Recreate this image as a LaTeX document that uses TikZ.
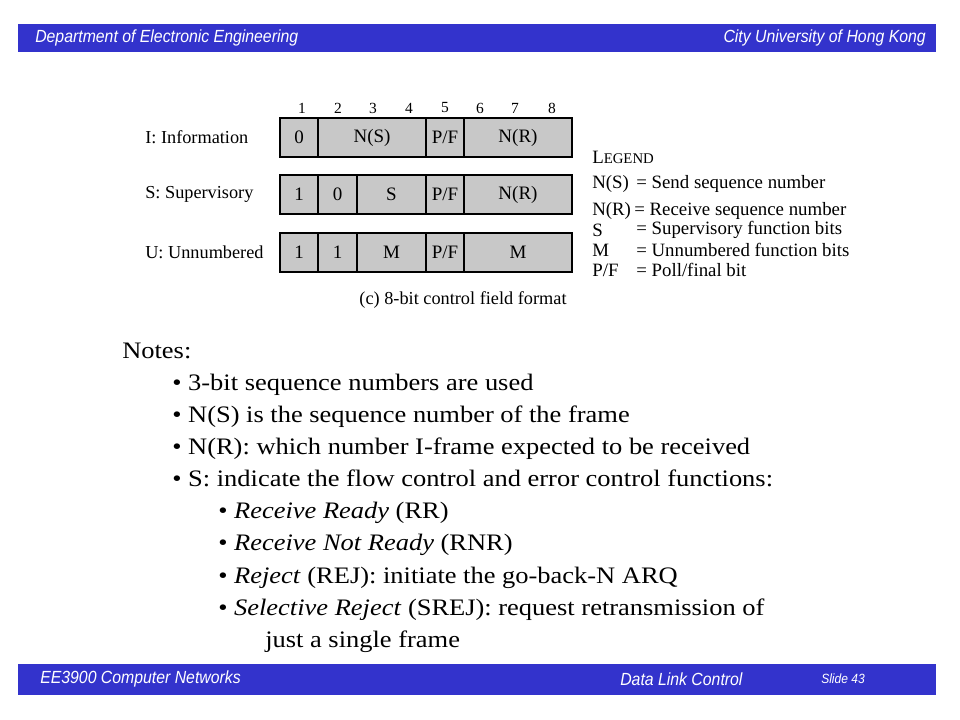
\documentclass[tikz,border=0pt]{standalone}
\usepackage{fontspec}
\setmainfont{Liberation Serif}
\setsansfont{Liberation Sans}
\newfontfamily\notesfont{Liberation Serif}[FakeStretch=1.12]
\newfontfamily\barfont{Liberation Sans}[FakeStretch=0.9]
\usetikzlibrary{math}
\definecolor{slideblue}{RGB}{51,51,204}
\definecolor{cellgray}{RGB}{200,200,200}

\begin{document}
\begin{tikzpicture}[x=0.025cm, y=-0.025cm,
  bartxt/.style={text=white, inner sep=0pt, font=\barfont\itshape\fontsize{12.5}{14}\selectfont},
  cell/.style={draw, line width=1.2pt, fill=cellgray},
  celltxt/.style={inner sep=0pt, font=\fontsize{13.5}{15}\selectfont},
  booktxt/.style={inner sep=0pt, font=\fontsize{13}{15}\selectfont},
  legtxt/.style={anchor=west, inner sep=0pt, font=\fontsize{13.4}{15}\selectfont},
  bitnum/.style={inner sep=0pt, font=\fontsize{11}{13}\selectfont},
  note/.style={anchor=base west, inner sep=0pt, font=\notesfont\fontsize{16.8}{19}\selectfont}]
\tikzmath{
\h=39;
\ya=118;
\yb=175;
\yc=233;
\dy=32;
}
\useasboundingbox (0,0) rectangle (960,720);

%header and footer
\fill[slideblue] (18,24) rectangle (936,52);
\node[bartxt, anchor=west] (dept) at (35,38) {Department of Electronic Engineering};
\node[bartxt, anchor=east] (uni) at (926,38) {City University of Hong Kong};
\fill[slideblue] (18,664) rectangle (936,695);
\node[bartxt, anchor=west] (course) at (40,679) {EE3900 Computer Networks};
\node[bartxt, anchor=west] (topic) at (620,679) {Data Link Control};
\node[bartxt, anchor=west, font=\barfont\itshape\fontsize{9.5}{11}\selectfont] (slide) at (821,679) {Slide 43};

%bit numbers
\node[bitnum] (b1) at (302,108) {1};
\node[bitnum] (b2) at (338,108) {2};
\node[bitnum] (b3) at (373,108) {3};
\node[bitnum] (b4) at (409,108) {4};
\node[bitnum] (b5) at (445,108) {5};
\node[bitnum] (b6) at (480,108) {6};
\node[bitnum] (b7) at (515,108) {7};
\node[bitnum] (b8) at (552,108) {8};

%I-frame
\node[booktxt, anchor=west] (ilab) at (145,\ya+\h/2) {I: Information};
\draw[cell] (280,\ya) rectangle (318,\ya+\h);
\draw[cell] (318,\ya) rectangle (426,\ya+\h);
\draw[cell] (426,\ya) rectangle (464,\ya+\h);
\draw[cell] (464,\ya) rectangle (572,\ya+\h);
\node[celltxt] (i1) at (299,\ya+\h/2) {0};
\node[celltxt] (i2) at (372,\ya+\h/2) {N(S)};
\node[celltxt] (i3) at (445,\ya+\h/2) {P/F};
\node[celltxt] (i4) at (518,\ya+\h/2) {N(R)};

%S-frame
\node[booktxt, anchor=west] (slab) at (145,\yb+\h/2) {S: Supervisory};
\draw[cell] (280,\yb) rectangle (318,\yb+\h);
\draw[cell] (318,\yb) rectangle (357,\yb+\h);
\draw[cell] (357,\yb) rectangle (426,\yb+\h);
\draw[cell] (426,\yb) rectangle (464,\yb+\h);
\draw[cell] (464,\yb) rectangle (572,\yb+\h);
\node[celltxt] (s1) at (299,\yb+\h/2) {1};
\node[celltxt] (s2) at (337.5,\yb+\h/2) {0};
\node[celltxt] (s3) at (391.5,\yb+\h/2) {S};
\node[celltxt] (s4) at (445,\yb+\h/2) {P/F};
\node[celltxt] (s5) at (518,\yb+\h/2) {N(R)};

%U-frame
\node[booktxt, anchor=west] (ulab) at (145,\yc+\h/2) {U: Unnumbered};
\draw[cell] (280,\yc) rectangle (318,\yc+\h);
\draw[cell] (318,\yc) rectangle (357,\yc+\h);
\draw[cell] (357,\yc) rectangle (426,\yc+\h);
\draw[cell] (426,\yc) rectangle (464,\yc+\h);
\draw[cell] (464,\yc) rectangle (572,\yc+\h);
\node[celltxt] (u1) at (299,\yc+\h/2) {1};
\node[celltxt] (u2) at (337.5,\yc+\h/2) {1};
\node[celltxt] (u3) at (391.5,\yc+\h/2) {M};
\node[celltxt] (u4) at (445,\yc+\h/2) {P/F};
\node[celltxt] (u5) at (518,\yc+\h/2) {M};

\node[booktxt] (caption) at (463,300) {(c) 8-bit control field format};

%legend
\node[legtxt] (legend) at (592,157) {L{\fontsize{10.5}{12}\selectfont EGEND}};
\node[legtxt] (kns) at (592,184) {N(S)};
\node[legtxt] (vns) at (636,184) {= Send sequence number};
\node[legtxt] (knr) at (592,211) {N(R)};
\node[legtxt] (vnr) at (634,211) {= Receive sequence number};
\node[legtxt] (ks) at (592,230) {S};
\node[legtxt] (vs) at (636,230) {= Supervisory function bits};
\node[legtxt] (km) at (592,250) {M};
\node[legtxt] (vm) at (636,250) {= Unnumbered function bits};
\node[legtxt] (kpf) at (592,270) {P/F};
\node[legtxt] (vpf) at (636,270) {= Poll/final bit};

%notes
\node[note] (notes) at (122,359) {Notes:};
\node[note] (n1) at (172,359+\dy) {\textbullet{} 3-bit sequence numbers are used};
\node[note] (n2) at (172,359+2*\dy) {\textbullet{} N(S) is the sequence number of the frame};
\node[note] (n3) at (172,359+3*\dy) {\textbullet{} N(R): which number I-frame expected to be received};
\node[note] (n4) at (172,359+4*\dy) {\textbullet{} S: indicate the flow control and error control functions:};
\node[note] (n5) at (218,359+5*\dy) {\textbullet{} \textit{Receive Ready} (RR)};
\node[note] (n6) at (218,359+6*\dy) {\textbullet{} \textit{Receive Not Ready} (RNR)};
\node[note] (n7) at (218,359+7*\dy) {\textbullet{} \textit{Reject} (REJ): initiate the go-back-N ARQ};
\node[note] (n8) at (218,359+8*\dy) {\textbullet{} \textit{Selective Reject} (SREJ): request retransmission of};
\node[note] (n9) at (265,359+9*\dy) {just a single frame};
\end{tikzpicture}
\end{document}
